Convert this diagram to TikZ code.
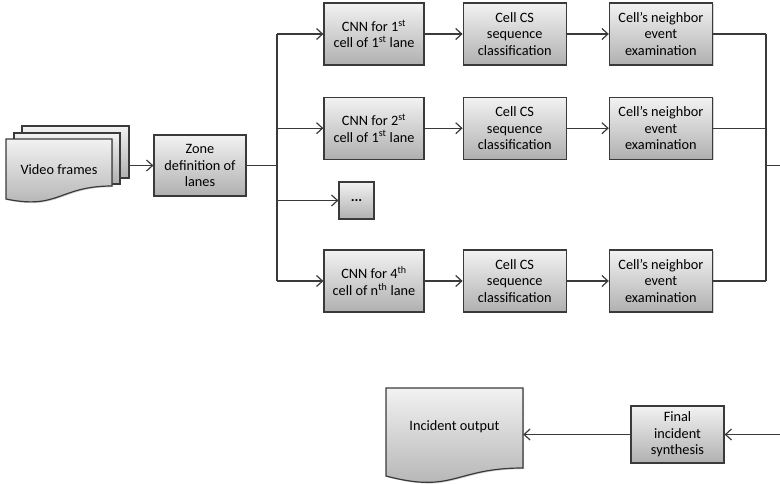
\documentclass[tikz,border=0pt]{standalone}
\usepackage{fontspec}
\setmainfont{Carlito}
\usepackage{tikz}
\usetikzlibrary{positioning, arrows.meta, shadows, backgrounds}

\definecolor{edgegray}{HTML}{3A3A3A}
\definecolor{toplight}{HTML}{F2F2F2}
\definecolor{botdark}{HTML}{B0B0B0}

\begin{document}
\begin{tikzpicture}[
    x=1pt, y=1pt,
    font=\fontsize{14.3}{16.5}\selectfont,
    box/.style={rectangle, draw=edgegray, line width=1.2pt,
                top color=toplight, bottom color=botdark,
                drop shadow={shadow xshift=1.2pt, shadow yshift=-1.2pt, opacity=0.35},
                minimum width=103pt, minimum height=62pt, align=center,
                inner sep=2pt},
    docfill/.style={draw=edgegray, line width=1.2pt,
                top color=toplight, bottom color=botdark,
                drop shadow={shadow xshift=1.2pt, shadow yshift=-1.2pt, opacity=0.35}},
    arrow/.style={-{Straight Barb[length=6pt, width=11pt]}, line width=1.2pt, draw=edgegray},
    line/.style={line width=1.2pt, draw=edgegray},
]
\useasboundingbox (0,0) rectangle (780,-483);

% input stack
\path[docfill] (22,-126) rectangle (129,-178);
\path[docfill] (14,-133) rectangle (120,-184);
\path[docfill] (6,-139) -- (112,-139) -- (112,-186)
    .. controls (59,-186) and (59,-210) .. (6,-199) -- cycle;
\node[minimum width=106pt, minimum height=50pt] (frames) at (59,-170) {Video frames};

\node[box, minimum width=92pt, minimum height=61pt] (zone) at (200,-165.5)
    {Zone\\definition of\\lanes};
\coordinate (split) at (277,-165.5);

% lanes
\node[box, minimum width=100pt] (cnn1) at (374,-34)
    {CNN for 1\textsuperscript{st}\\cell of 1\textsuperscript{st} lane};
\node[box, right=38pt of cnn1] (cs1) {Cell CS\\sequence\\classification};
\node[box, right=42pt of cs1] (nb1) {Cell’s neighbor\\event\\examination};

\node[box, minimum width=100pt, below=31pt of cnn1] (cnn2)
    {CNN for 2\textsuperscript{st}\\cell of 1\textsuperscript{st} lane};
\node[box, right=38pt of cnn2] (cs2) {Cell CS\\sequence\\classification};
\node[box, right=42pt of cs2] (nb2) {Cell’s neighbor\\event\\examination};

\node[box, minimum width=35pt, minimum height=37pt, text depth=-4pt] (dots) at (356.5,-200.5) {\textbf{...}};

\node[box, minimum width=100pt] (cnn4) at (374,-281)
    {CNN for 4\textsuperscript{th}\\cell of n\textsuperscript{th} lane};
\node[box, right=38pt of cnn4] (cs4) {Cell CS\\sequence\\classification};
\node[box, right=42pt of cs4] (nb4) {Cell’s neighbor\\event\\examination};

% output
\node[box, minimum width=93pt, minimum height=57pt] (final) at (677.5,-434.5)
    {Final\\incident\\synthesis};
\path[docfill] (386,-388) -- (523,-388) -- (523,-468)
    .. controls (454,-468) and (454,-494) .. (386,-476) -- cycle;
\node[minimum width=137pt, minimum height=70pt] (incident) at (454.5,-427)
    {Incident output};
\coordinate (merge) at (766,-165.5);
\coordinate (edge) at (780,-165.5);
\coordinate (back) at (780,-434.5);

\draw[arrow] (129,-165.5) -- (zone);
\draw[line] (zone) -- (split);
\draw[line] (split |- cnn1) -- (split |- cnn4);
\draw[arrow] (split |- cnn1) -- (cnn1);
\draw[arrow] (split |- cnn2) -- (cnn2);
\draw[arrow] (split |- dots) -- (dots);
\draw[arrow] (split |- cnn4) -- (cnn4);

\foreach \i in {1,2,4} {
    \draw[arrow] (cnn\i) -- (cs\i);
    \draw[arrow] (cs\i) -- (nb\i);
    \draw[line] (nb\i) -- (merge |- nb\i);
}
\draw[line] (merge |- nb1) -- (merge |- nb4);
\draw[line] (merge) -- (edge);

\draw[arrow] (back) -- (final);
\draw[arrow] (final) -- (incident.east |- final);
\end{tikzpicture}
\end{document}
